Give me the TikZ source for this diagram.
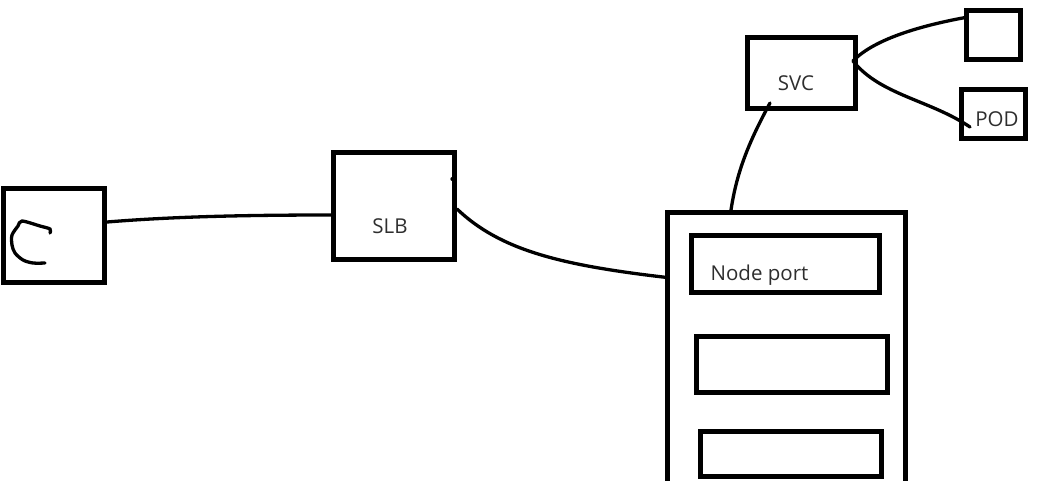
\documentclass[tikz,border=0pt]{standalone}
\usepackage{fontspec}
\setmainfont{Open Sans}
\tikzset{
  box/.style={draw,line width=5pt,inner sep=0pt},
  lbl/.style={inner sep=0pt,text=black!82,font=\fontsize{20.5}{20.5}\selectfont},
  wire/.style={line width=3.3pt,line cap=round}
}
\begin{document}
\begin{tikzpicture}[x=1pt,y=-1pt]
\clip (0,0) rectangle (1059,480);
\node[box,minimum width=101pt,minimum height=94pt] (cl) at (54,235.5) {};
\node[box,minimum width=121pt,minimum height=107pt] (slb) at (394,206) {};
\node[box,minimum width=108pt,minimum height=71pt] (svc) at (801.5,73) {};
\node[box,minimum width=54pt,minimum height=48.5pt] (podA) at (993.5,34.75) {};
\node[box,minimum width=64pt,minimum height=49pt] (podB) at (993.5,114) {};
\node[box,minimum width=238pt,minimum height=287.5pt] (wn) at (786.5,356.25) {};
\node[box,minimum width=188pt,minimum height=57pt] (np) at (785.5,264) {};
\node[box,minimum width=191pt,minimum height=56pt] (wb) at (792,364.5) {};
\node[box,minimum width=181pt,minimum height=45pt] (wc) at (791,454) {};
\node[lbl] (slbT) at (390,226.5) {SLB};
\node[lbl] (svcT) at (796,83) {SVC};
\node[lbl] (podT) at (997,119) {POD};
\node[lbl] (npT) at (759.5,275.5) {Node port};
\draw[wire] ([yshift=13.5pt]cl.east) .. controls (180,216) and (260,215) .. ([yshift=-9pt]slb.west);
\draw[wire] ([yshift=-3pt]slb.east) .. controls (500,250) and (560,265) .. ([yshift=79pt]wn.west);
\draw[wire] ([xshift=-55.5pt]wn.north) .. controls (737,170) and (750,140) .. ([xshift=-31.5pt,yshift=8pt]svc.south);
\draw[wire] ([xshift=-5pt,yshift=12pt]svc.east) .. controls (875,38) and (925,25) .. ([yshift=17pt]podA.west);
\draw[wire] ([xshift=-5pt,yshift=12pt]svc.east) .. controls (880,95) and (930,100) .. ([xshift=11pt,yshift=-13pt]podB.west);
\draw[wire] ([xshift=-4pt,yshift=27pt]slb.east) -- ([xshift=-5pt,yshift=27pt]slb.east);
\draw[wire] plot[smooth] coordinates {(50,233) (50,229) (40,226) (22,221) (18,226) (12,235) (12,245) (15,253) (23,260) (33,263) (45,263)};
\end{tikzpicture}
\end{document}
